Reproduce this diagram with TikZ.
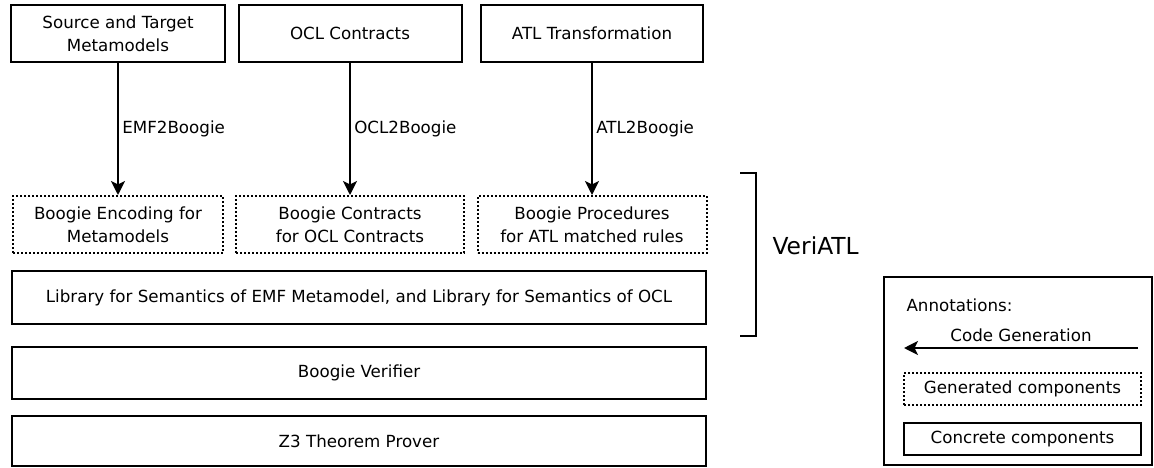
\documentclass[tikz,border=0pt]{standalone}
\usepackage{fontspec}
\setmainfont{DejaVu Sans}
\usetikzlibrary{arrows.meta}
\tikzset{l/.style={font=\fontsize{16.7}{23}\selectfont}}
\tikzset{m/.style={font=\fontsize{23.4}{26}\selectfont}}
\tikzset{box/.style={draw,line width=2pt,align=center,inner sep=0pt,l}}
\tikzset{genbox/.style={box,dash pattern=on 2pt off 2pt}}
\tikzset{gen/.style={-{Stealth[length=14pt,width=14pt,inset=3.5pt]},line width=2pt}}
\tikzset{genr/.style={{Stealth[length=14pt,width=14pt,inset=3.5pt]}-,line width=2pt}}

\begin{document}
\begin{tikzpicture}[x=1pt,y=-1pt,line join=miter]
  \useasboundingbox (0,0) rectangle (1154,468);
  % inputs
  \node[box,minimum width=214pt,minimum height=57pt] (mm) at (118,33.5) {Source and Target\\Metamodels};
  \node[box,minimum width=223pt,minimum height=57pt] (ocl) at (350,33.5) {OCL Contracts};
  \node[box,minimum width=222pt,minimum height=57pt] (atl) at (592,33.5) {ATL Transformation};
  % generated Boogie code
  \node[genbox,minimum width=210pt,minimum height=57pt] (enc) at (118,224.5) {Boogie Encoding for\\Metamodels}
    edge [genr] node [l, right] {EMF2Boogie} (mm);
  \node[genbox,minimum width=228pt,minimum height=57pt] (con) at (350,224.5) {Boogie Contracts\\for OCL Contracts}
    edge [genr] node [l, right] {OCL2Boogie} (ocl);
  \node[genbox,minimum width=229pt,minimum height=57pt] (proc) at (592,224.5) {Boogie Procedures\\for ATL matched rules}
    edge [genr] node [l, right] {ATL2Boogie} (atl);
  % libraries and back end
  \node[box,minimum width=694pt,minimum height=53pt] (lib) at (359,297.5) {Library for Semantics of EMF Metamodel, and Library for Semantics of OCL};
  \node[box,minimum width=694pt,minimum height=52pt] (ver) at (359,373) {Boogie Verifier};
  \node[box,minimum width=694pt,minimum height=50pt] (z3) at (359,441) {Z3 Theorem Prover};
  % VeriATL bracket
  \coordinate (bt) at (740,173);
  \coordinate (bb) at (740,336);
  \draw[line width=2pt] (bt) -- ++(16,0) |- (bb);
  \node[m, anchor=west] (veri) at (769,246) {VeriATL};
  % legend
  \node[draw,line width=1.5pt,minimum width=268pt,minimum height=188pt,inner sep=0pt] (leg) at (1018,371) {};
  \node[l, anchor=west] (ann) at (903,305) {Annotations:};
  \coordinate (cgR) at (1138,348);
  \coordinate (cgL) at (904,348);
  \draw[gen] (cgR) -- node[l, above=2pt] (cg) {Code Generation} (cgL);
  \node[genbox,minimum width=237pt,minimum height=32pt] (lgen) at (1022.5,389) {Generated components};
  \node[box,minimum width=237pt,minimum height=32pt] (lcon) at (1022.5,439) {Concrete components};
\end{tikzpicture}
\end{document}
